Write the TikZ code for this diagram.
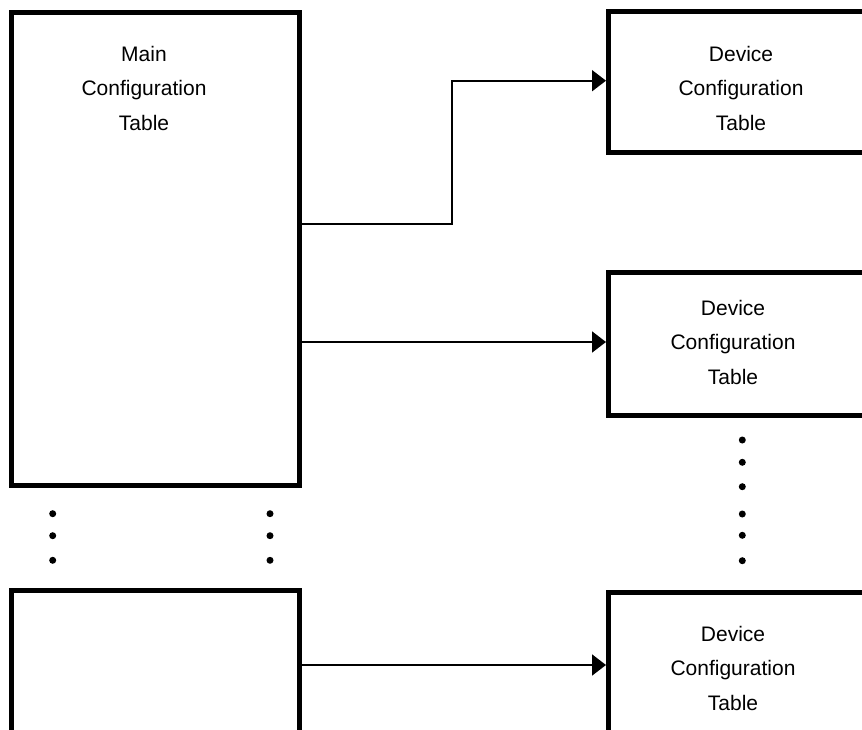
\documentclass[tikz,border=0pt]{standalone}
\usepackage{fontspec}
\setmainfont{Liberation Sans}
\usetikzlibrary{arrows.meta}
\begin{document}
\begin{tikzpicture}[x=1pt,y=-1pt,
  tablebox/.style={draw=black, line width=5pt, fill=white, rectangle,
    anchor=north west, inner sep=0pt},
  lbl/.style={align=center, inner sep=0pt, font=\fontsize{21}{34.5}\selectfont},
  conn/.style={draw=black, line width=1.8pt,
    -{Triangle[length=14pt,width=21pt]}},
  dotmark/.style={circle, fill=black, inner sep=0pt, minimum size=7pt}]
\useasboundingbox (0,0) rectangle (862,730);
\fill[white] (0,0) rectangle (862,730);
\clip (0,0) rectangle (862,730);

% main configuration table and the continuation box below it
\node[tablebox, minimum width=288pt, minimum height=472.5pt] (main) at (9,10) {};
\node[lbl] (maintext) at (144,88) {Main\\Configuration\\Table};
\node[tablebox, minimum width=288pt, minimum height=200pt] (sub) at (9,588) {};

% device configuration tables
\node[tablebox, minimum width=280pt, minimum height=141.5pt] (dev1) at (606,9) {};
\node[lbl] (dev1text) at (741,88) {Device\\Configuration\\Table};
\node[tablebox, minimum width=280pt, minimum height=142.5pt] (dev2) at (606,270) {};
\node[lbl] (dev2text) at (733,342) {Device\\Configuration\\Table};
\node[tablebox, minimum width=280pt, minimum height=200pt] (dev3) at (606,590) {};
\node[lbl] (dev3text) at (733,668) {Device\\Configuration\\Table};

% connectors
\coordinate (bend) at (452,224);
\draw[conn] (main.east |- bend) -- (bend) -- (bend |- 0,80.7) -- (dev1.west |- 0,80.7);
\draw[conn] (main.east |- 0,342) -- (dev2.west |- 0,342);
\draw[conn] (sub.east |- 0,665) -- (dev3.west |- 0,665);

% ellipsis dots
\foreach \y [count=\i] in {513.7,535.7,560.3} {
  \node[dotmark] (ldot\i) at (52.7,\y) {};
  \node[dotmark] (rdot\i) at (270,\y) {};
}
\foreach \y [count=\i] in {440,462.3,486.7,514,535.3,560.7} {
  \node[dotmark] (ddot\i) at (742.3,\y) {};
}
\end{tikzpicture}
\end{document}
